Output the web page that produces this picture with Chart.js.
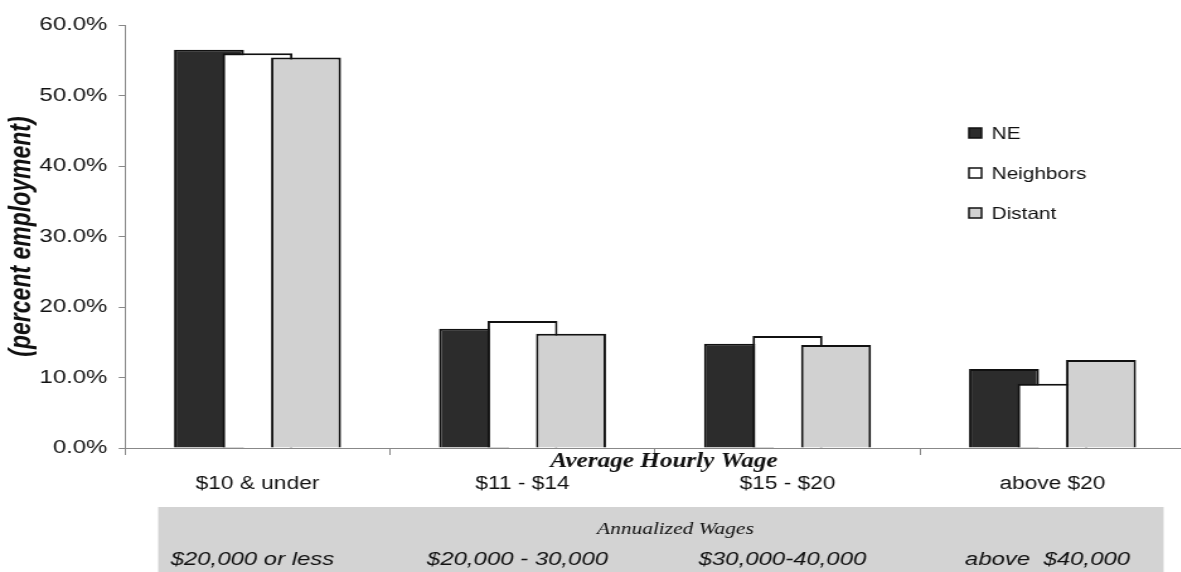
<!DOCTYPE html>
<html>
<head>
<meta charset="utf-8">
<script src="https://cdn.jsdelivr.net/npm/chart.js@4.4.1/dist/chart.umd.min.js"></script>
<style>
  html, body { margin: 0; padding: 0; background: #fff; overflow: hidden; }
  /* the chart is laid out narrow, then widened like the printed figure */
  #wrap { width: 950px; height: 572px; transform: scaleX(1.26); transform-origin: 0 0; }
</style>
</head>
<body>
<div id="wrap"><canvas id="wageChart"></canvas></div>
<script>
const hourlyWages = ["$10 & under", "$11 - $14", "$15 - $20", "above $20"];
const annualWages = ["$20,000 or less", "$20,000 - 30,000", "$30,000-40,000", "above  $40,000"];

// percent of employment in each wage class
const neShare = [56.5, 16.9, 14.8, 11.2];
const neighborsShare = [56.0, 18.0, 15.9, 9.1];
const distantShare = [55.4, 16.2, 14.6, 12.5];

const yMax = 60;
const yStep = 10;

const sans = "'Liberation Sans', Arial, sans-serif";
const serif = "'Liberation Serif', 'Times New Roman', serif";

// bars overlap, so draw NE first and let each later series sit on top
const drawInOrder = {
    id: "drawInOrder",
    beforeDatasetsDraw(chart) {
        chart.getSortedVisibleDatasetMetas().forEach(meta => meta.controller.draw());
        return false;
    }
};

// legend box in the upper right
const sideLegend = {
    id: "sideLegend",
    afterDraw(chart) {
        const ctx = chart.ctx;
        ctx.save();
        ctx.font = "16.5px " + sans;
        ctx.textBaseline = "middle";
        chart.data.datasets.forEach((ds, i) => {
            const y = 133 + i * 40;
            ctx.fillStyle = ds.backgroundColor;
            ctx.fillRect(769, y - 5, 10, 10);
            ctx.strokeStyle = "#111";
            ctx.lineWidth = 1.5;
            ctx.strokeRect(769, y - 5, 10, 10);
            ctx.fillStyle = "#111";
            ctx.fillText(ds.label, 787, y + 1);
        });
        ctx.restore();
    }
};

// axis caption and the annual wage band under the categories
const wageBand = {
    id: "wageBand",
    afterDraw(chart) {
        const ctx = chart.ctx;
        const xs = chart.scales.x;
        ctx.save();
        ctx.fillStyle = "#d3d3d3";
        ctx.fillRect(125.5, 507, 798, 70);

        ctx.fillStyle = "#111";
        ctx.textAlign = "center";
        ctx.textBaseline = "alphabetic";
        ctx.font = "italic bold 20px " + serif;
        ctx.fillText("Average Hourly Wage", 527, 467);

        ctx.font = "italic 17px " + serif;
        ctx.fillText("Annualized Wages", 536, 534);

        ctx.font = "italic 19px " + sans;
        annualWages.forEach((txt, i) => {
            ctx.fillText(txt, xs.getPixelForValue(i) - 4, 565);
        });
        ctx.restore();
    }
};

new Chart(document.getElementById("wageChart"), {
    type: "bar",
    data: {
        labels: hourlyWages,
        datasets: [
            { label: "NE", data: neShare, backgroundColor: "#2c2c2c" },
            { label: "Neighbors", data: neighborsShare, backgroundColor: "#ffffff" },
            { label: "Distant", data: distantShare, backgroundColor: "#d1d1d1" }
        ]
    },
    options: {
        responsive: true,
        maintainAspectRatio: false,
        animation: false,
        layout: { padding: { top: 25, right: 9.5, bottom: 0, left: 0 } },
        datasets: {
            bar: {
                borderColor: "#111",
                borderWidth: 2,
                categoryPercentage: 0.549,
                barPercentage: 1.443
            }
        },
        plugins: {
            legend: { display: false },
            tooltip: { enabled: false }
        },
        scales: {
            x: {
                afterFit(scale) { scale.height = 124; },
                border: { display: true, color: "#888", width: 1 },
                grid: { offset: true, drawOnChartArea: false, drawTicks: true, tickLength: 7, color: "#888" },
                ticks: {
                    color: "#111",
                    font: { family: sans, size: 18 },
                    padding: 18,
                    maxRotation: 0,
                    autoSkip: false
                }
            },
            y: {
                min: 0,
                max: yMax,
                afterFit(scale) { scale.width = 99.2; },
                border: { display: true, color: "#888", width: 1 },
                grid: { drawOnChartArea: false, drawTicks: true, tickLength: 5, color: "#888" },
                ticks: {
                    stepSize: yStep,
                    color: "#111",
                    font: { family: sans, size: 19 },
                    padding: 9,
                    callback: v => v.toFixed(1) + "%"
                },
                title: {
                    display: true,
                    text: "(percent employment)",
                    color: "#111",
                    font: { family: sans, size: 23, weight: "bold", style: "italic" },
                    padding: { top: 4, bottom: 0 }
                }
            }
        }
    },
    plugins: [drawInOrder, sideLegend, wageBand]
});
</script>
</body>
</html>
